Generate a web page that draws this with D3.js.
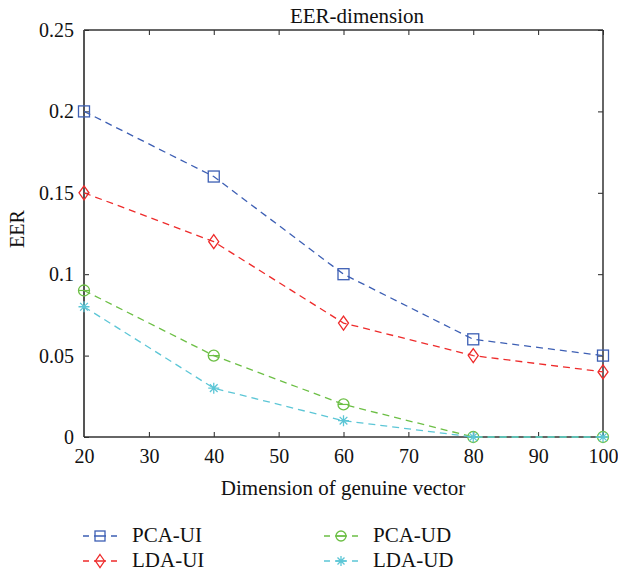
<!DOCTYPE html>
<html>
<head>
<meta charset="utf-8">
<script src="https://cdn.jsdelivr.net/npm/d3@7"></script>
<style>
  body { margin: 0; background: #fff; }
  text { font-family: "Liberation Serif", "DejaVu Serif", serif; fill: #111; }
</style>
</head>
<body>
<svg id="chart" width="618" height="576"></svg>
<script>
// data
var dims = [20, 40, 60, 80, 100];
var pcaUI = [0.2, 0.16, 0.1, 0.06, 0.05];
var ldaUI = [0.15, 0.12, 0.07, 0.05, 0.04];
var pcaUD = [0.09, 0.05, 0.02, 0, 0];
var ldaUD = [0.08, 0.03, 0.01, 0, 0];
var xTicks = [20, 30, 40, 50, 60, 70, 80, 90, 100];
var yTicks = [0, 0.05, 0.1, 0.15, 0.2, 0.25];

var series = [
  { name: "PCA-UI", values: pcaUI, color: "#3d5fb4", marker: "square" },
  { name: "LDA-UI", values: ldaUI, color: "#ee2b2b", marker: "diamond" },
  { name: "PCA-UD", values: pcaUD, color: "#6cbf45", marker: "circle" },
  { name: "LDA-UD", values: ldaUD, color: "#5cc6d6", marker: "star" }
];

var svg = d3.select("#chart");
// plot box (note: "top" would clash with window.top)
var pLeft = 84, pRight = 603, pTop = 30, pBottom = 437;

var x = d3.scaleLinear().domain([20, 100]).range([pLeft, pRight]);
var y = d3.scaleLinear().domain([0, 0.25]).range([pBottom, pTop]);

// axes with inward ticks
svg.append("g").attr("transform", "translate(0," + pBottom + ")")
  .call(d3.axisBottom(x).tickValues(xTicks).tickSize(-5).tickPadding(12).tickFormat(d3.format("d")));
svg.append("g").attr("transform", "translate(0," + pTop + ")")
  .call(d3.axisTop(x).tickValues(xTicks).tickSize(-5).tickFormat(""));
svg.append("g").attr("transform", "translate(" + pLeft + ",0)")
  .call(d3.axisLeft(y).tickValues(yTicks).tickSize(-5).tickPadding(10)
    .tickFormat(function(d) { return d === 0 ? "0" : String(+d.toFixed(2)); }));
svg.append("g").attr("transform", "translate(" + pRight + ",0)")
  .call(d3.axisRight(y).tickValues(yTicks).tickSize(-5).tickFormat(""));

svg.selectAll(".domain").remove();
svg.selectAll("g").attr("font-family", "Liberation Serif");
svg.selectAll(".tick line").attr("stroke", "#222");
svg.selectAll(".tick text").attr("font-size", 20).attr("fill", "#111");

// frame
var frame = svg.append("g");
frame.append("line").attr("x1", pLeft).attr("x2", pLeft).attr("y1", pTop).attr("y2", pBottom)
  .attr("stroke", "#555").attr("stroke-width", 2);
frame.append("line").attr("x1", pRight).attr("x2", pRight).attr("y1", pTop).attr("y2", pBottom)
  .attr("stroke", "#333").attr("stroke-width", 1.5);
frame.append("line").attr("x1", pLeft).attr("x2", pRight).attr("y1", pTop).attr("y2", pTop)
  .attr("stroke", "#333").attr("stroke-width", 1.5);
frame.append("line").attr("x1", pLeft).attr("x2", pRight).attr("y1", pBottom).attr("y2", pBottom)
  .attr("stroke", "#333").attr("stroke-width", 1.5);

// titles
svg.append("text").attr("x", 357).attr("y", 23).attr("text-anchor", "middle")
  .style("font-size", "21px").text("EER-dimension");
svg.append("text").attr("x", 343).attr("y", 495).attr("text-anchor", "middle")
  .style("font-size", "21px").text("Dimension of genuine vector");
svg.append("text").attr("transform", "translate(24,229) rotate(-90)")
  .attr("text-anchor", "middle").style("font-size", "20px").text("EER");

function drawMarker(g, type, color, r) {
  r = r || 5.5;
  if (type === "square") {
    g.append("rect").attr("x", -r).attr("y", -r).attr("width", 2 * r).attr("height", 2 * r)
      .attr("fill", "none").attr("stroke", color).attr("stroke-width", 1.3);
  } else if (type === "diamond") {
    g.append("path").attr("d", "M0," + (-r - 1.5) + "L" + (r - 0.5) + ",0L0," + (r + 1.5) + "L" + (-r + 0.5) + ",0Z")
      .attr("fill", "none").attr("stroke", color).attr("stroke-width", 1.3);
  } else if (type === "circle") {
    g.append("circle").attr("r", r).attr("fill", "none").attr("stroke", color).attr("stroke-width", 1.3);
    g.append("line").attr("x1", -r).attr("x2", r).attr("stroke", color).attr("stroke-width", 1.2);
  } else {
    var k = r * 0.7;
    g.append("path").attr("d", "M" + (-r) + ",0L" + r + ",0M0," + (-r) + "L0," + r +
        "M" + (-k) + "," + (-k) + "L" + k + "," + k + "M" + (-k) + "," + k + "L" + k + "," + (-k))
      .attr("stroke", color).attr("stroke-width", 1.3);
  }
}

var line = d3.line()
  .x(function(d) { return x(d[0]); })
  .y(function(d) { return y(d[1]); });

series.forEach(function(s) {
  var pts = dims.map(function(d, i) { return [d, s.values[i]]; });
  svg.append("path").datum(pts).attr("d", line)
    .attr("fill", "none").attr("stroke", s.color).attr("stroke-width", 1.3)
    .attr("stroke-dasharray", "7,5");
  pts.forEach(function(p) {
    var g = svg.append("g").attr("transform", "translate(" + x(p[0]) + "," + y(p[1]) + ")");
    drawMarker(g, s.marker, s.color);
  });
});

// legend
var legPos = [[83, 536], [83, 561], [324, 536], [324, 561]];
series.forEach(function(s, i) {
  var lx = legPos[i][0], ly = legPos[i][1];
  svg.append("line").attr("x1", lx).attr("x2", lx + 34).attr("y1", ly).attr("y2", ly)
    .attr("stroke", s.color).attr("stroke-width", 1.3).attr("stroke-dasharray", "6,5,12,5,6");
  var g = svg.append("g").attr("transform", "translate(" + (lx + 17) + "," + ly + ")");
  drawMarker(g, s.marker, s.color, 5);
  svg.append("text").attr("x", lx + 49).attr("y", ly + 6).style("font-size", "21px").text(s.name);
});
</script>
</body>
</html>
